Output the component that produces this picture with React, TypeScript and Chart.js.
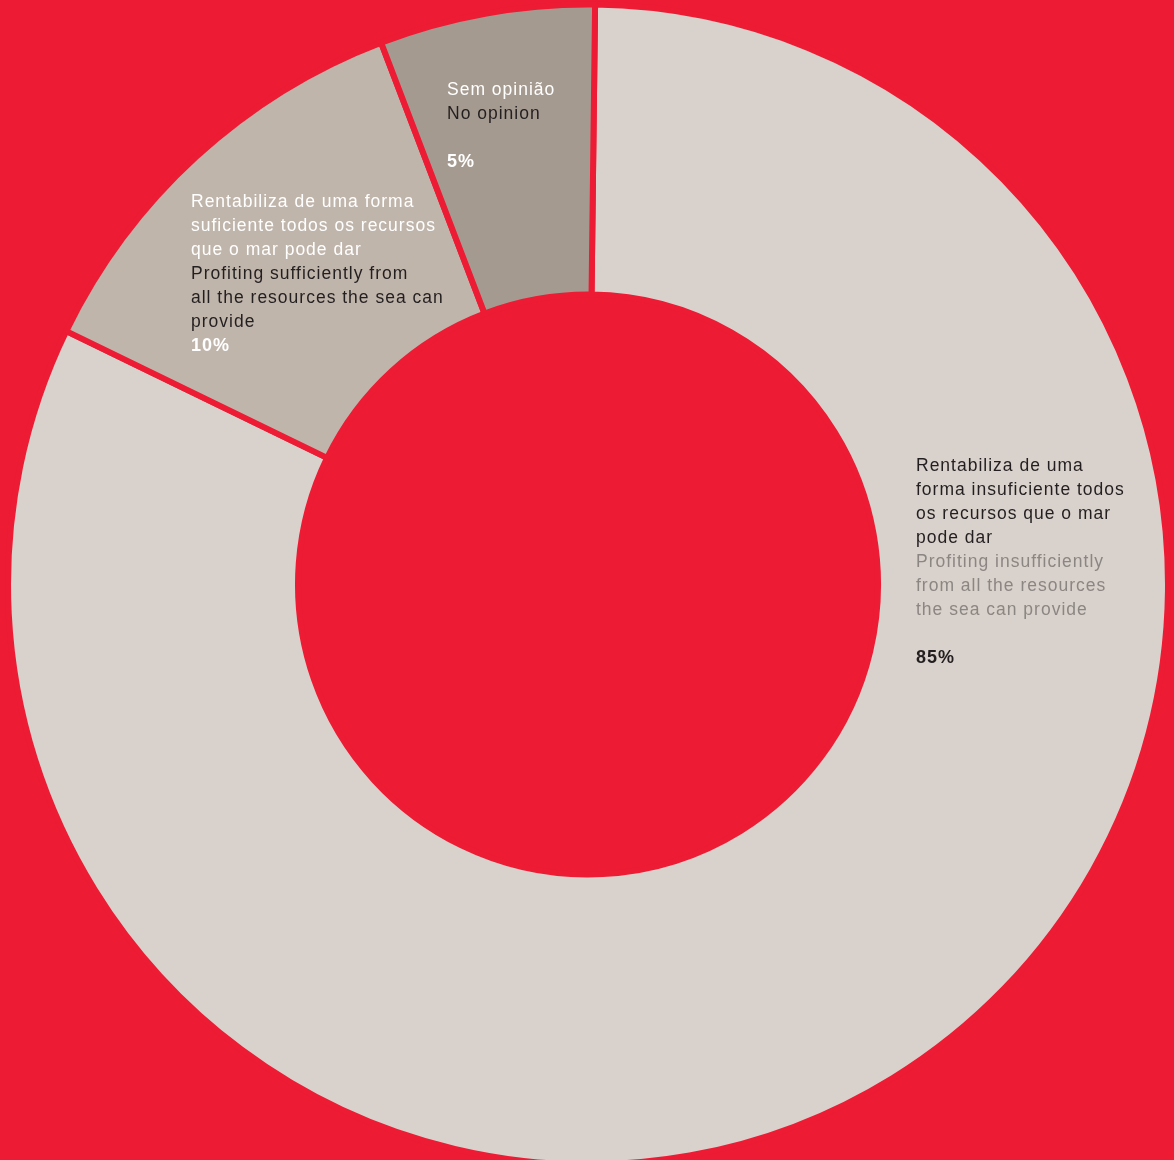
import React, { useEffect, useRef } from "react";
import { Chart, registerables } from "chart.js";

Chart.register(...registerables);

// ---- Data ----
const categories = [
  "Rentabiliza de uma forma insuficiente todos os recursos que o mar pode dar",
  "Rentabiliza de uma forma suficiente todos os recursos que o mar pode dar",
  "Sem opinião",
];
// slice sizes as drawn in the picture (clockwise from 12 o'clock)
const sliceValues = [82, 12, 6];
const percentLabels = ["85%", "10%", "5%"];
const ptLines = [
  ["Rentabiliza de uma", "forma insuficiente todos", "os recursos que o mar", "pode dar"],
  ["Rentabiliza de uma forma", "suficiente todos os recursos", "que o mar pode dar"],
  ["Sem opinião"],
];
const enLines = [
  ["Profiting insufficiently", "from all the resources", "the sea can provide"],
  ["Profiting sufficiently from", "all the resources the sea can", "provide"],
  ["No opinion"],
];

// ---- Styles ----
const RED = "#ED1B34";
const sliceColors = ["#D9D1CB", "#C0B5AB", "#A59A90"];
const BLACK = "#231F20";
const labelStyles = [
  { x: 916, y: 471, pt: BLACK, en: "#8C8683", pct: BLACK, blank: 1 },
  { x: 191, y: 207, pt: "#FFFFFF", en: BLACK, pct: "#FFFFFF", blank: 0 },
  { x: 447, y: 95, pt: "#FFFFFF", en: BLACK, pct: "#FFFFFF", blank: 1 },
];
const FONT = '"Liberation Sans", Arial, Helvetica, sans-serif';
const LINE_H = 24;

const labelPlugin = {
  id: "sliceLabels",
  afterDatasetsDraw(chart: any) {
    const ctx = chart.ctx as CanvasRenderingContext2D;
    ctx.save();
    ctx.textAlign = "left";
    ctx.textBaseline = "alphabetic";
    (ctx as any).letterSpacing = "1px";
    labelStyles.forEach((s, i) => {
      let y = s.y;
      ctx.font = `17.5px ${FONT}`;
      ctx.fillStyle = s.pt;
      ptLines[i].forEach((t) => {
        ctx.fillText(t, s.x, y);
        y += LINE_H;
      });
      ctx.fillStyle = s.en;
      enLines[i].forEach((t) => {
        ctx.fillText(t, s.x, y);
        y += LINE_H;
      });
      y += LINE_H * s.blank;
      ctx.font = `bold 18px ${FONT}`;
      ctx.fillStyle = s.pct;
      ctx.fillText(percentLabels[i], s.x, y);
    });
    ctx.restore();
  },
};

export default function App() {
  const ref = useRef<HTMLCanvasElement | null>(null);

  useEffect(() => {
    document.body.style.margin = "0";
    document.body.style.background = RED;
    const canvas = ref.current;
    if (!canvas) return;
    const chart = new Chart(canvas, {
      type: "doughnut",
      data: {
        labels: categories,
        datasets: [
          {
            data: sliceValues,
            backgroundColor: sliceColors,
            borderColor: RED,
            borderWidth: 6,
            hoverOffset: 0,
          },
        ],
      },
      options: {
        responsive: false,
        animation: false,
        rotation: 0.7,
        cutout: "50%",
        radius: 580,
        layout: { padding: 0 },
        plugins: {
          legend: { display: false },
          tooltip: { enabled: false },
        },
        events: [],
      },
      plugins: [labelPlugin],
    });
    return () => chart.destroy();
  }, []);

  return (
    <div
      style={{
        position: "fixed",
        left: 0,
        top: 0,
        right: 0,
        bottom: 0,
        background: RED,
        overflow: "hidden",
      }}
    >
      <canvas
        ref={ref}
        width={1176}
        height={1169}
        style={{ position: "absolute", left: 0, top: 0, width: 1176, height: 1169 }}
      />
    </div>
  );
}
